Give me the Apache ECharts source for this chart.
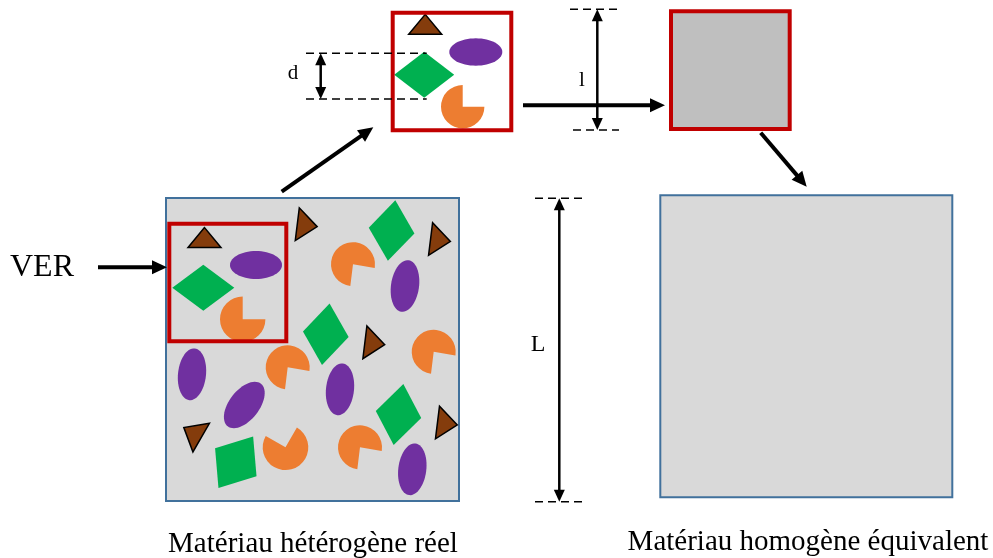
<!DOCTYPE html>
<html>
<head>
<meta charset="utf-8">
<script src="https://cdn.jsdelivr.net/npm/echarts@6/dist/echarts.min.js"></script>
<style>
  html, body { margin: 0; padding: 0; background: #fff; }
  #main { width: 993px; height: 558px; }
</style>
</head>
<body>
<div id="main"></div>
<script>
// all values, in picture units (x right, y down)

// gray material boxes: x0, y0, x1, y1
var sampleBoxes = [[166, 198, 459, 501], [660.3, 195.3, 952.3, 497.3]];
// red frames (VER inside the sample, magnified VER)
var redFrames = [[169.3, 223.7, 286.3, 341.3], [392.7, 12.7, 511.3, 130.3]];
// homogenised cell
var homogCell = [[671, 11.3, 789.7, 129]];

// triangles: centre x, centre y, turn (deg, clockwise)
var triangles = [
  [204.5, 240.9, 0], [425.2, 27.7, 0], [303.9, 225, 97], [437.2, 239.8, 97],
  [371.5, 343.1, 97], [444.1, 423.3, 97], [195.4, 434.3, -60]
];
// diamonds: centre x, centre y, half width, half height, turn
var diamonds = [
  [203.3, 287.7, 31, 23, 0], [424.2, 74.7, 30, 23, 0], [391.6, 230.6, 23, 30.5, 7],
  [325.8, 334.2, 23, 31, 7], [398.5, 414.5, 23, 31, 9], [235.8, 462.2, 25, 31, 34]
];
// ellipses: centre x, centre y, rx, ry, turn
var ellipses = [
  [256, 265, 26, 14, 0], [475.8, 52, 26.5, 13.7, 0], [405, 286, 14, 26, 8],
  [192, 374.3, 14, 26, 6], [244.3, 405, 15, 27, 38], [340, 389.3, 14, 26, 6],
  [412.3, 469.3, 14, 26, 7]
];
// pacmen: centre x, centre y, radius, notch from, notch to (deg, anticlockwise from east)
var pacmen = [
  [242.7, 319.3, 22.7, 0, 90], [462.7, 106.7, 21.7, 0, 90], [353, 264.2, 22, -97, -10],
  [287.7, 367.3, 22, -97, -10], [433.7, 351.8, 22, -97, -10], [285.5, 447.3, 22.8, 60, 150],
  [360, 447.3, 22, -97, -10]
];

// arrows: x1, y1, x2 (tip), y2
var arrows = [[98, 267.3, 167, 267.3], [281.7, 191.7, 373.3, 127.3], [523, 105.3, 665, 105.3], [760.7, 132.7, 806.7, 186.7]];
// dimension arrows: x, y1, y2
var dimArrows = [[320.7, 53.3, 99], [597.3, 9.3, 130], [559.3, 198.3, 501.7]];
// dashed guides: x1, x2, y
var guides = [[306, 426.7, 53.3], [306, 426.7, 99], [570, 619.3, 9.3], [573, 619, 130], [535, 585, 198.3], [535, 585, 501.7]];

var labels = ['VER', 'd', 'l', 'L', 'Matériau hétérogène réel', 'Matériau homogène équivalent'];
var labelPos = [[42, 268], [293, 73], [582, 80], [538, 345], [313, 544], [808, 542]];
var labelFont = [32, 21, 21, 24, 29, 29];

var chart = echarts.init(document.getElementById('main'));

function turn(c, dx, dy, deg) {
  var t = deg * Math.PI / 180, cs = Math.cos(t), sn = Math.sin(t);
  return [c[0] + dx * cs - dy * sn, c[1] + dx * sn + dy * cs];
}
function px(api, v) { return Math.abs(api.size([v, 0])[0]); }

function rectOf(api) {
  var a = api.coord([api.value(0), api.value(1)]);
  var b = api.coord([api.value(2), api.value(3)]);
  return { x: Math.min(a[0], b[0]), y: Math.min(a[1], b[1]), width: Math.abs(b[0] - a[0]), height: Math.abs(b[1] - a[1]) };
}

function boxSeries(data, fill, stroke, lw, z) {
  return {
    type: 'custom', coordinateSystem: 'cartesian2d', z: z, silent: true,
    data: data,
    renderItem: function (params, api) {
      return { type: 'rect', shape: rectOf(api), style: { fill: fill, stroke: stroke, lineWidth: lw } };
    }
  };
}

function headPoly(p, u, len, hw) {
  return [p, [p[0] - u[0] * len - u[1] * hw, p[1] - u[1] * len + u[0] * hw], [p[0] - u[0] * len + u[1] * hw, p[1] - u[1] * len - u[0] * hw]];
}

var option = {
  animation: false,
  backgroundColor: '#fff',
  grid: { left: 0, right: 0, top: 0, bottom: 0 },
  xAxis: { type: 'value', min: 0, max: 993, show: false },
  yAxis: { type: 'value', min: 0, max: 558, inverse: true, show: false },
  series: [
    boxSeries(sampleBoxes, '#d9d9d9', '#41719c', 2, 1),
    boxSeries(homogCell, '#bfbfbf', '#c00000', 4, 1),
    {
      type: 'custom', coordinateSystem: 'cartesian2d', z: 3, silent: true,
      data: triangles,
      renderItem: function (params, api) {
        var c = api.coord([api.value(0), api.value(1)]);
        var w = px(api, 33), h = px(api, 20), r = api.value(2);
        var pts = [turn(c, 0, -2 * h / 3, r), turn(c, -w / 2, h / 3, r), turn(c, w / 2, h / 3, r)];
        return { type: 'polygon', shape: { points: pts }, style: { fill: '#843c0c', stroke: '#000', lineWidth: 1.5 } };
      }
    },
    {
      type: 'custom', coordinateSystem: 'cartesian2d', z: 3, silent: true,
      data: diamonds,
      renderItem: function (params, api) {
        var c = api.coord([api.value(0), api.value(1)]);
        var a = px(api, api.value(2)), b = px(api, api.value(3)), r = api.value(4);
        var pts = [turn(c, a, 0, r), turn(c, 0, b, r), turn(c, -a, 0, r), turn(c, 0, -b, r)];
        return { type: 'polygon', shape: { points: pts }, style: { fill: '#00b050' } };
      }
    },
    {
      type: 'custom', coordinateSystem: 'cartesian2d', z: 3, silent: true,
      data: ellipses,
      renderItem: function (params, api) {
        var c = api.coord([api.value(0), api.value(1)]);
        var a = px(api, api.value(2)), b = px(api, api.value(3)), r = api.value(4);
        var pts = [];
        for (var i = 0; i < 60; i++) {
          var f = i / 60 * Math.PI * 2;
          pts.push(turn(c, a * Math.cos(f), b * Math.sin(f), r));
        }
        return { type: 'polygon', shape: { points: pts }, style: { fill: '#7030a0' } };
      }
    },
    {
      type: 'custom', coordinateSystem: 'cartesian2d', z: 3, silent: true,
      data: pacmen,
      renderItem: function (params, api) {
        var c = api.coord([api.value(0), api.value(1)]);
        var rr = px(api, api.value(2));
        var from = api.value(3), to = api.value(4);
        return {
          type: 'sector',
          shape: { cx: c[0], cy: c[1], r: rr, r0: 0, startAngle: -(from + 360) * Math.PI / 180, endAngle: -to * Math.PI / 180, clockwise: true },
          style: { fill: '#ed7d31' }
        };
      }
    },
    boxSeries(redFrames, null, '#c00000', 4, 5),
    {
      type: 'custom', coordinateSystem: 'cartesian2d', z: 6, silent: true,
      data: arrows,
      renderItem: function (params, api) {
        var p1 = api.coord([api.value(0), api.value(1)]);
        var p2 = api.coord([api.value(2), api.value(3)]);
        var dx = p2[0] - p1[0], dy = p2[1] - p1[1], L = Math.sqrt(dx * dx + dy * dy);
        var u = [dx / L, dy / L];
        return {
          type: 'group', children: [
            { type: 'line', shape: { x1: p1[0], y1: p1[1], x2: p2[0] - u[0] * 10, y2: p2[1] - u[1] * 10 }, style: { stroke: '#000', lineWidth: 4 } },
            { type: 'polygon', shape: { points: headPoly(p2, u, 15, 7) }, style: { fill: '#000' } }
          ]
        };
      }
    },
    {
      type: 'custom', coordinateSystem: 'cartesian2d', z: 6, silent: true,
      data: dimArrows,
      renderItem: function (params, api) {
        var p1 = api.coord([api.value(0), api.value(1)]);
        var p2 = api.coord([api.value(0), api.value(2)]);
        return {
          type: 'group', children: [
            { type: 'line', shape: { x1: p1[0], y1: p1[1] + 8, x2: p2[0], y2: p2[1] - 8 }, style: { stroke: '#000', lineWidth: 2.5 } },
            { type: 'polygon', shape: { points: headPoly(p1, [0, -1], 12, 5.5) }, style: { fill: '#000' } },
            { type: 'polygon', shape: { points: headPoly(p2, [0, 1], 12, 5.5) }, style: { fill: '#000' } }
          ]
        };
      }
    },
    {
      type: 'custom', coordinateSystem: 'cartesian2d', z: 6, silent: true,
      data: guides,
      renderItem: function (params, api) {
        var p1 = api.coord([api.value(0), api.value(2)]);
        var p2 = api.coord([api.value(1), api.value(2)]);
        return { type: 'line', shape: { x1: p1[0], y1: p1[1], x2: p2[0], y2: p2[1] }, style: { stroke: '#000', lineWidth: 1.5, lineDash: [8, 5] } };
      }
    },
    {
      type: 'custom', coordinateSystem: 'cartesian2d', z: 7, silent: true,
      data: labelPos,
      renderItem: function (params, api) {
        var p = api.coord([api.value(0), api.value(1)]);
        var i = params.dataIndex;
        return {
          type: 'text',
          style: { text: labels[i], x: p[0], y: p[1], fill: '#000', align: 'center', verticalAlign: 'middle', font: labelFont[i] + 'px "Liberation Serif", "DejaVu Serif", serif' }
        };
      }
    }
  ]
};
chart.setOption(option);
</script>
</body>
</html>
